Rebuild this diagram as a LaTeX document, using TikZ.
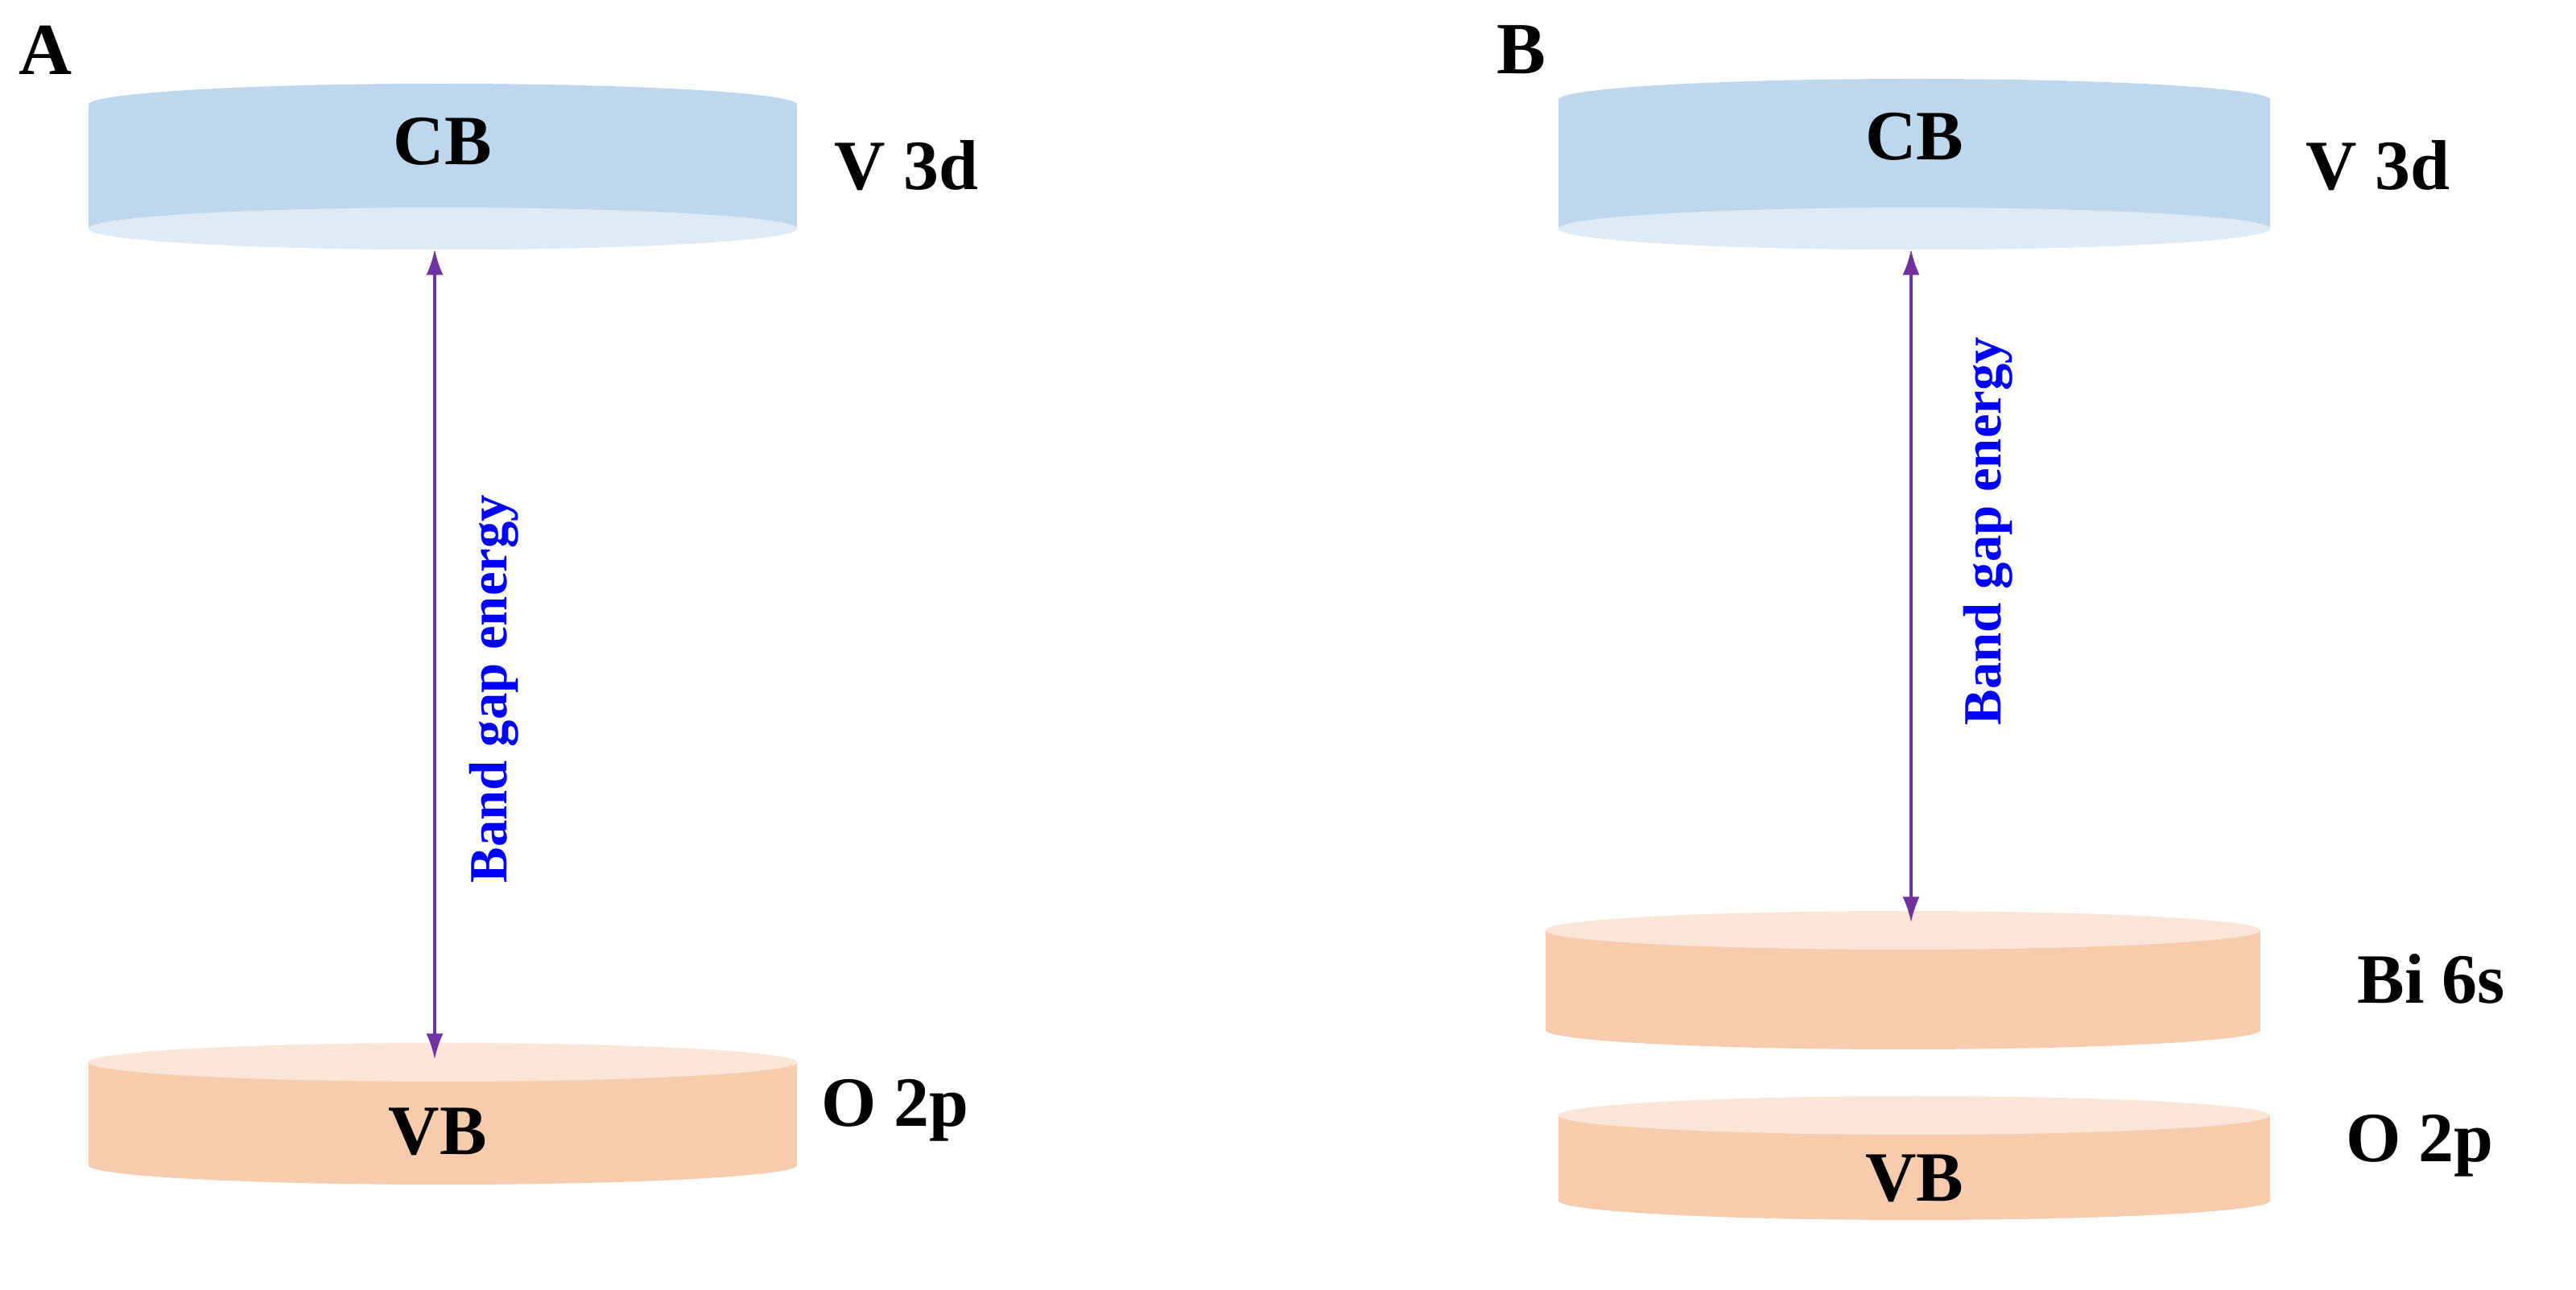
\documentclass[tikz,border=0pt]{standalone}
\usepackage{fontspec}
\setmainfont{Liberation Serif}
\usetikzlibrary{arrows.meta}
\definecolor{cb}{HTML}{BDD7EE}
\definecolor{cbl}{HTML}{DEEBF7}
\definecolor{vb}{HTML}{F8CBAD}
\definecolor{vbl}{HTML}{FBE5D6}
\definecolor{arr}{HTML}{7030A0}
\begin{document}
\begin{tikzpicture}[x=0.02cm,y=-0.02cm,
  lbl/.style={font=\fontsize{25}{29}\selectfont\bfseries},
  panel/.style={font=\fontsize{26}{30}\selectfont\bfseries},
  gap/.style={font=\fontsize{19}{22}\selectfont\bfseries,text=blue,rotate=90},
  conn/.style={draw=arr,line width=0.9pt,{Latex[length=9pt,width=6pt]}-{Latex[length=9pt,width=6pt]}}]
\useasboundingbox (0,0) rectangle (1600,801.5);
\newcommand{\disc}[8]{%
  \fill[#6] (#1-#2,#3) rectangle (#1+#2,#4);
  \fill[#6] (#1,#4) ellipse [x radius=#2, y radius=#5];
  \fill[#7] (#1,#3) ellipse [x radius=#2, y radius=#5];
  \ifx#8y\fill[cbl] (#1,#4) ellipse [x radius=#2, y radius=#5];\fi}
% Panel A
\node[panel] (pa) at (28,31) {A};
\disc{275}{220}{65}{142}{13}{cb}{cb}{y}
\node[lbl] (cba) at (275,88) {CB};
\node[lbl] (v3a) at (563,103) {V 3d};
\disc{275}{220}{660}{724}{12}{vb}{vbl}{n}
\node[lbl] (vba) at (272,703) {VB};
\node[lbl] (o2a) at (556,690) {O 2p};
\coordinate (a1) at (270,155);
\coordinate (a2) at (270,658);
\draw[conn] (a1) -- (a2);
\node[gap] (ga) at (307,428) {Band gap energy};
% Panel B
\node[panel] (pb) at (945,31) {B};
\disc{1189}{221}{62}{142}{13}{cb}{cb}{y}
\node[lbl] (cbb) at (1189,85) {CB};
\node[lbl] (v3b) at (1477,103) {V 3d};
\disc{1182}{222}{578}{640}{12}{vb}{vbl}{n}
\node[lbl] (bi) at (1510,608) {Bi 6s};
\disc{1189}{221}{693}{746}{12}{vb}{vbl}{n}
\node[lbl] (vbb) at (1189,732) {VB};
\node[lbl] (o2b) at (1503,712) {O 2p};
\coordinate (b1) at (1187,155);
\coordinate (b2) at (1187,573);
\draw[conn] (b1) -- (b2);
\node[gap] (gb) at (1235,330) {Band gap energy};
\end{tikzpicture}
\end{document}
